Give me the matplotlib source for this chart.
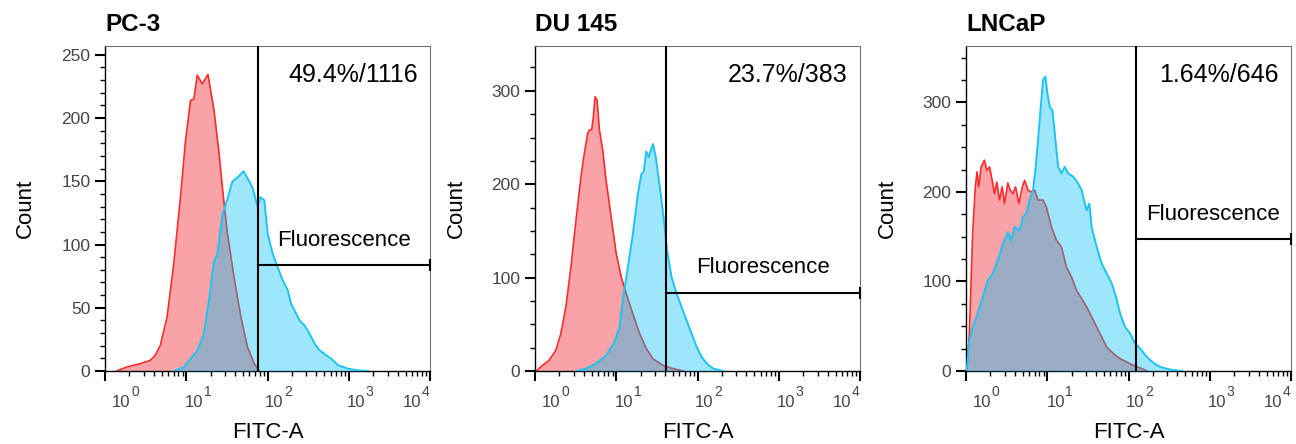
import numpy as np
import matplotlib
matplotlib.use('Agg')
import matplotlib.pyplot as plt
from matplotlib.ticker import FixedLocator, MultipleLocator, NullFormatter

plt.rcParams['font.family'] = ['Liberation Sans', 'DejaVu Sans']

# data, x given as log10(FITC-A)
titles = ['PC-3', 'DU 145', 'LNCaP']
gate_pos = [75.6, 41.5, 122.0]
gate_y = [83.5, 84.0, 147.0]
gate_text = ['49.4%/1116', '23.7%/383', '1.64%/646']
ymax = [257, 348, 363]
ymajor = [50, 100, 100]
yminor = [10, 25, 25]

pc3_red_log = [0.144, 0.268, 0.433, 0.557, 0.619, 0.681, 0.764, 0.846, 0.929, 0.991, 1.053,
               1.094, 1.135, 1.197, 1.267, 1.342, 1.404, 1.445, 1.507, 1.589, 1.672, 1.754,
               1.837, 1.899]
pc3_red_cnt = [0, 3.2, 5.8, 8.4, 12.4, 20.3, 42.7, 84.8, 137.5, 182, 214,
               215, 234, 227, 234.5, 206, 172, 145, 108.5, 74, 42.7, 19,
               5.8, 0]
pc3_blue_log = [0.846, 0.970, 1.053, 1.135, 1.218, 1.280, 1.342, 1.383, 1.445, 1.507, 1.569,
                1.631, 1.705, 1.775, 1.816, 1.878, 1.911, 1.961, 2.002, 2.064, 2.126, 2.188,
                2.250, 2.291, 2.332, 2.394, 2.456, 2.518, 2.580, 2.642, 2.724, 2.786, 2.869,
                2.993, 3.117, 3.240]
pc3_blue_cnt = [0, 3, 9.7, 16, 29.5, 56, 87, 92, 123, 136, 150,
                153, 158, 150, 145, 130, 137.5, 135, 108.5, 92.7, 82, 71.7,
                63.8, 53, 48, 40, 36, 29.5, 21.6, 16.3, 12.4, 9.7, 4.5,
                1.8, 0.5, 0]

du145_red_log = [0.017, 0.091, 0.173, 0.256, 0.318, 0.380, 0.442, 0.504, 0.566, 0.607, 0.648,
                 0.669, 0.698, 0.718, 0.739, 0.764, 0.793, 0.834, 0.875, 0.937, 0.999, 1.061,
                 1.123, 1.205, 1.288, 1.370, 1.453, 1.577, 1.701, 1.825]
du145_red_cnt = [0, 6, 11.4, 22, 40, 68.6, 111, 161, 208, 233, 254,
                 258, 258, 272, 293.6, 290, 258, 236, 204, 165, 126, 100.7,
                 83, 61, 40, 24, 13, 6, 2.5, 0]
du145_blue_log = [0.504, 0.627, 0.751, 0.875, 0.978, 1.040, 1.081, 1.143, 1.205, 1.267, 1.309,
                  1.337, 1.370, 1.399, 1.424, 1.453, 1.486, 1.536, 1.577, 1.626, 1.680, 1.742,
                  1.804, 1.866, 1.928, 1.990, 2.052, 2.114, 2.196, 2.320]
du145_blue_cnt = [0, 2.5, 7.9, 16.8, 31, 47, 75.7, 111, 147, 190, 211,
                  213, 235, 229, 236, 243, 229, 197, 168.6, 129, 100.7, 83,
                  68.6, 54, 40, 25.7, 15, 7.9, 2.5, 0]

lncap_red_log = [0.008, 0.041, 0.082, 0.115, 0.136, 0.157, 0.186, 0.227, 0.256, 0.289, 0.322,
                 0.351, 0.379, 0.412, 0.445, 0.474, 0.515, 0.544, 0.577, 0.610, 0.651, 0.693,
                 0.722, 0.763, 0.804, 0.845, 0.887, 0.948, 0.990, 1.052, 1.113, 1.175, 1.237,
                 1.299, 1.361, 1.423, 1.485, 1.567, 1.649, 1.732, 1.814, 1.897, 1.979, 2.062,
                 2.165, 2.227]
lncap_red_cnt = [0, 41.7, 153.5, 205.7, 222.5, 205.7, 228, 235.5, 224, 228, 213,
                 198, 211, 191, 205.7, 187, 210, 202, 198, 205.7, 187, 205.7,
                 213, 202, 200, 202, 191, 191, 183, 161, 146, 138.6, 116,
                 105, 90, 81, 71.6, 56.7, 41.7, 26.8, 19.4, 13.8, 10, 6.3,
                 2.6, 0]
lncap_blue_log = [0.008, 0.041, 0.082, 0.144, 0.206, 0.268, 0.330, 0.392, 0.454, 0.515, 0.557,
                  0.598, 0.660, 0.701, 0.742, 0.784, 0.825, 0.858, 0.887, 0.920, 0.948, 0.977,
                  1.002, 1.031, 1.064, 1.093, 1.134, 1.175, 1.216, 1.258, 1.320, 1.381, 1.423,
                  1.452, 1.485, 1.518, 1.546, 1.608, 1.670, 1.732, 1.794, 1.847, 1.897, 1.959,
                  2.021, 2.082, 2.144, 2.227, 2.309, 2.392, 2.515, 2.660]
lncap_blue_cnt = [0, 34, 49, 64, 82.7, 101, 109, 124, 142, 155, 146,
                  161, 157, 172, 176, 191, 202, 228, 258, 295, 325, 329,
                  310, 295, 291, 265, 228, 220.6, 228, 220.6, 217, 209.5, 202,
                  191, 179.6, 187, 161, 138.6, 120, 109, 97.6, 82.7, 64, 49,
                  41.7, 30.6, 25, 15.6, 9, 4.5, 1.5, 0]

reds = [(pc3_red_log, pc3_red_cnt), (du145_red_log, du145_red_cnt), (lncap_red_log, lncap_red_cnt)]
blues = [(pc3_blue_log, pc3_blue_cnt), (du145_blue_log, du145_blue_cnt), (lncap_blue_log, lncap_blue_cnt)]

red_line = '#ff2a2a'
red_fill = '#f9a3a8'
blue_line = '#1ec3f0'
blue_fill = (0.0, 0.745, 0.96, 0.38)
tick_col = '#454545'

fig = plt.figure(figsize=(12.96, 4.44), dpi=100)
lefts = [105, 535, 966]
xticks = [1, 10, 100, 1000, 10000]
# horizontal shift (px) of each "10^k" label from its tick, FlowJo style
label_dx = [7, -1, -2.5, -2, -27]
px = 72 / 100

for i in range(3):
    ax = fig.add_axes([lefts[i] / 1296, 73 / 444, 325 / 1296, 325 / 444])
    rx = 10 ** np.array(reds[i][0])
    bx = 10 ** np.array(blues[i][0])
    ax.fill_between(rx, reds[i][1], color=red_fill, lw=0, zorder=1)
    ax.plot(rx, reds[i][1], color=red_line, lw=1.2, zorder=2)
    ax.fill_between(bx, blues[i][1], color=blue_fill, lw=0, zorder=3)
    ax.plot(bx, blues[i][1], color=blue_line, lw=1.4, zorder=4)

    ax.set_xscale('log')
    ax.set_xlim(1, 1e4)
    ax.set_ylim(0, ymax[i])

    # gate
    ax.axvline(gate_pos[i], color='black', lw=1.5, zorder=5)
    ax.plot([gate_pos[i], 1e4], [gate_y[i], gate_y[i]], color='black', lw=1.5, zorder=5,
            clip_on=False)
    ax.plot([1e4], [gate_y[i]], marker='|', ms=9, mew=1.5, color='black', zorder=5,
            clip_on=False)
    ax.annotate('Fluorescence', xy=(np.sqrt(gate_pos[i] * 1e4), gate_y[i]),
                xytext=(0, 14), textcoords='offset points', ha='center', va='baseline',
                fontsize=16)
    ax.text(0.963, 0.89, gate_text[i], transform=ax.transAxes, ha='right', va='baseline',
            fontsize=18)

    ax.set_title(titles[i], loc='left', fontsize=17.5, fontweight='bold', pad=11)

    ax.xaxis.set_major_locator(FixedLocator(xticks))
    minors = [m * 10 ** e for e in range(4) for m in range(2, 10)]
    ax.xaxis.set_minor_locator(FixedLocator(minors))
    ax.xaxis.set_major_formatter(NullFormatter())
    ax.xaxis.set_minor_formatter(NullFormatter())
    for k, xt in enumerate(xticks):
        ax.annotate('10', xy=(xt, 0), xycoords=('data', 'axes fraction'),
                    xytext=(label_dx[k] * px, -35.7 * px), textcoords='offset points',
                    ha='left', va='baseline', fontsize=12, color=tick_col,
                    annotation_clip=False)
        ax.annotate(str(k), xy=(xt, 0), xycoords=('data', 'axes fraction'),
                    xytext=((label_dx[k] + 19) * px, -25 * px), textcoords='offset points',
                    ha='left', va='baseline', fontsize=10, color=tick_col,
                    annotation_clip=False)

    ax.yaxis.set_major_locator(MultipleLocator(ymajor[i]))
    ax.yaxis.set_minor_locator(MultipleLocator(yminor[i]))

    ax.tick_params(which='major', direction='out', length=7.5, width=1.5, colors='black',
                   labelcolor=tick_col, labelsize=12.5, pad=3)
    ax.tick_params(which='minor', direction='out', length=3.5, width=1, colors='black')

    for s in ['top', 'right']:
        ax.spines[s].set_color('#707070')
        ax.spines[s].set_linewidth(0.8)
    for s in ['left', 'bottom']:
        ax.spines[s].set_color('black')
        ax.spines[s].set_linewidth(1.0)

    ax.set_xlabel('FITC-A', fontsize=16)
    ax.xaxis.set_label_coords(0.5, -0.157)
    ax.set_ylabel('Count', fontsize=16, labelpad=18)

fig.savefig('out.png', dpi=100)
